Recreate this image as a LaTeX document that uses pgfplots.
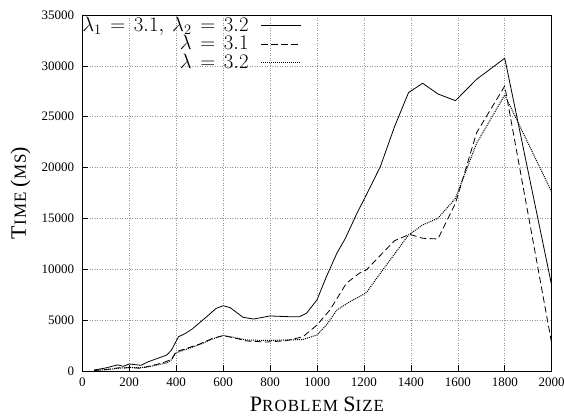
\documentclass[border=0pt]{standalone}
\usepackage{fontspec}
\setmainfont{Liberation Serif}
\newfontfamily\scfont[LetterSpace=6]{Liberation Serif}
\usepackage{pgfplots}
\pgfplotsset{compat=1.18}
\newcommand{\LC}[1]{{\fontsize{22}{24}\selectfont #1}}
\newcommand{\SC}[1]{{\scfont\fontsize{17}{19}\selectfont #1}}
\newcommand{\Eq}{\mathrel{\mkern2.5mu{=}\mkern2.5mu}}
\begin{document}
\begin{tikzpicture}
\path[use as bounding box] (-82.3pt,-47pt) rectangle (481.7pt,371pt);
\begin{axis}[
  at={(0pt,0pt)}, anchor=south west,
  scale only axis, width=469.4pt, height=356pt,
  xmin=0, xmax=2000, ymin=0, ymax=35000,
  xtick={0,200,...,2000}, ytick={0,5000,...,35000},
  scaled ticks=false,
  /pgf/number format/.cd, assume math mode=true, set thousands separator={}, /pgfplots/.cd,
  tick pos=left, tick align=inside, major tick length=6pt,
  tick style={black, line width=0.6pt},
  axis line style={black, line width=0.8pt},
  grid=major,
  major grid style={gray!85, dash pattern=on 0.8pt off 1.7pt, line width=0.6pt},
  ticklabel style={font=\fontsize{13}{14}\selectfont},
  xticklabel style={inner sep=0pt, anchor=north, yshift=-6.5pt},
  yticklabel style={inner sep=0pt, anchor=east, xshift=-8pt},
  xlabel={\LC{P}\SC{ROBLEM }\LC{S}\SC{IZE}},
  ylabel={\LC{T}\SC{IME }\LC{(}\SC{MS}\LC{)}},
  xlabel style={at={(axis description cs:0.5,-0.1124)}, anchor=base, inner sep=0pt},
  ylabel style={at={(axis description cs:-0.12,0.5)}, anchor=base, inner sep=0pt},
  legend plot pos=right,
  legend cell align=right,
  legend image code/.code={\draw[#1] (0pt,0pt) -- (40pt,0pt);},
  legend style={at={(0,1)}, anchor=north west, yshift=-1.5pt, draw=none, fill=none,
    inner sep=0pt, outer sep=0pt, row sep=0pt, column sep=12pt,
    font=\fontsize{22.5}{22.5}\selectfont,
    nodes={inner sep=0pt, text height=15pt, text depth=3.3pt}},
]
\addplot[black, line width=0.8pt] coordinates {
(50,100) (100,300) (150,600) (175,460) (200,690) (250,560) (280,900) (360,1570)
(380,2060) (410,3370) (440,3700) (470,4160) (530,5340) (570,6150) (600,6420)
(630,6230) (685,5280) (730,5110) (800,5410) (880,5340) (925,5340) (955,5670)
(1000,7000) (1040,9270) (1085,11600) (1120,13000) (1170,15500) (1210,17300)
(1270,20100) (1330,24000) (1390,27370) (1450,28290) (1515,27240) (1590,26580)
(1680,28680) (1800,30750) (2000,8400)
};
\addlegendentry{$\lambda_1 \Eq 3.1,\mkern4mu \lambda_2 \Eq 3.2$}
\addplot[black, line width=0.8pt, dash pattern=on 6.5pt off 3.5pt] coordinates {
(50,50) (100,150) (160,330) (180,300) (205,340) (250,260) (300,550) (345,820)
(380,1150) (400,1900) (445,2230) (500,2650) (555,3210) (600,3470) (645,3270)
(700,2950) (785,2850) (870,2980) (940,3370) (1000,4520) (1055,6000) (1125,8620)
(1180,9610) (1210,9930) (1330,12810) (1395,13440) (1450,13050) (1515,12980)
(1590,16490) (1680,23430) (1800,28020) (2000,2700)
};
\addlegendentry{$\lambda \Eq 3.1$}
\addplot[black, line width=1pt, dash pattern=on 1pt off 1pt] coordinates {
(50,50) (100,120) (160,280) (200,350) (250,330) (300,500) (360,800) (380,1100)
(400,1800) (445,2150) (500,2600) (555,3150) (600,3500) (645,3300) (700,3050)
(785,3000) (870,3050) (940,3100) (1000,3540) (1040,4520) (1085,6000) (1140,6810)
(1180,7300) (1210,7700) (1280,9930) (1390,13370) (1450,14360) (1515,15010)
(1590,16980) (1680,22390) (1800,27140) (2000,17600)
};
\addlegendentry{$\lambda \Eq 3.2$}
\end{axis}
\end{tikzpicture}
\end{document}
